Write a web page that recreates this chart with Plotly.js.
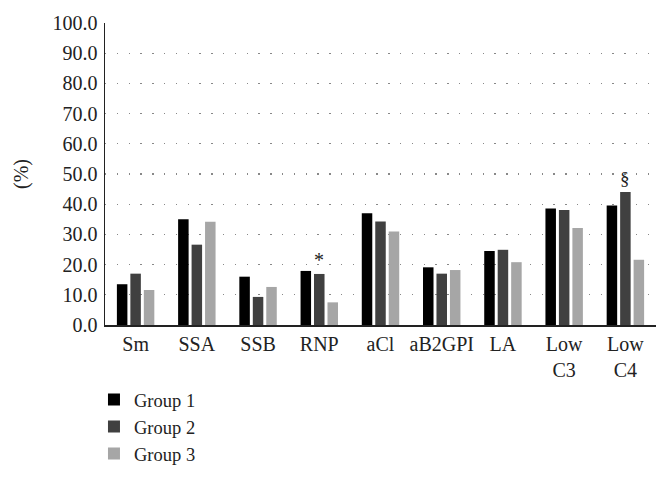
<!DOCTYPE html>
<html>
<head>
<meta charset="utf-8">
<script src="https://cdn.plot.ly/plotly-3.0.1.min.js"></script>
<style>html,body{margin:0;padding:0;background:#fff;}#chart{width:669px;height:483px;}</style>
</head>
<body>
<div id="chart"></div>
<script>
const categories = ["Sm", "SSA", "SSB", "RNP", "aCl", "aB2GPI", "LA", "Low<br>C3", "Low<br>C4"];
const group1 = [13.5, 35.0, 16.0, 17.9, 37.0, 19.1, 24.5, 38.6, 39.6];
const group2 = [17.0, 26.6, 9.3, 16.9, 34.3, 17.0, 24.9, 38.1, 44.0];
const group3 = [11.6, 34.2, 12.6, 7.5, 31.0, 18.2, 20.8, 32.1, 21.6];
const seriesNames = ["Group 1", "Group 2", "Group 3"];
const yTickVals = [0, 10, 20, 30, 40, 50, 60, 70, 80, 90, 100];
const yTickText = ["0.0", "10.0", "20.0", "30.0", "40.0", "50.0", "60.0", "70.0", "80.0", "90.0", "100.0"];
const markers = [{cat: "RNP", text: "*"}, {cat: "Low<br>C4", text: "§"}];

const colors = ["#000000", "#404040", "#a6a6a6"];
const font = "Liberation Serif, Times New Roman, serif";
const series = [group1, group2, group3];

const data = series.map((vals, i) => ({
  type: "bar",
  name: seriesNames[i],
  x: categories,
  y: vals,
  marker: {color: colors[i], line: {width: 0}},
  hoverinfo: "none"
}));

const annotations = markers.map(m => {
  const idx = categories.indexOf(m.cat);
  return {
    x: m.cat, y: group2[idx], xref: "x", yref: "y",
    text: m.text, showarrow: false, yanchor: "bottom", yshift: 1,
    font: {family: font, size: m.text === "*" ? 20 : 19, color: "#222"}
  };
});

const layout = {
  width: 669, height: 483,
  margin: {l: 105, r: 13, t: 23, b: 158, autoexpand: false},
  paper_bgcolor: "#fff", plot_bgcolor: "#fff",
  barmode: "group", bargap: 0.34, bargroupgap: 0.22,
  font: {family: font, size: 20, color: "#222"},
  xaxis: {
    showline: true, linecolor: "#222", linewidth: 1.5,
    ticks: "", showgrid: false, zeroline: false, automargin: false,
    tickfont: {family: font, size: 20, color: "#222"},
    tickangle: 0
  },
  yaxis: {
    range: [0, 100], tickvals: yTickVals, ticktext: yTickText,
    showline: true, linecolor: "#222", linewidth: 1.5,
    ticks: "", zeroline: false, automargin: false, ticklabelstandoff: 2,
    showgrid: true, gridcolor: "#888", gridwidth: 1.3, griddash: "1.3px,10.5px",
    tickfont: {family: font, size: 20, color: "#222"},
    title: {text: "(%)", font: {family: font, size: 20, color: "#222"}, standoff: 18}
  },
  showlegend: true,
  legend: {
    x: -0.02, xanchor: "left", y: -0.185, yanchor: "top",
    orientation: "v", font: {family: font, size: 18.5, color: "#222"},
    bgcolor: "rgba(0,0,0,0)", tracegroupgap: 0, itemwidth: 30
  },
  annotations: annotations
};

Plotly.newPlot("chart", data, layout, {staticPlot: true, displayModeBar: false});
</script>
</body>
</html>
